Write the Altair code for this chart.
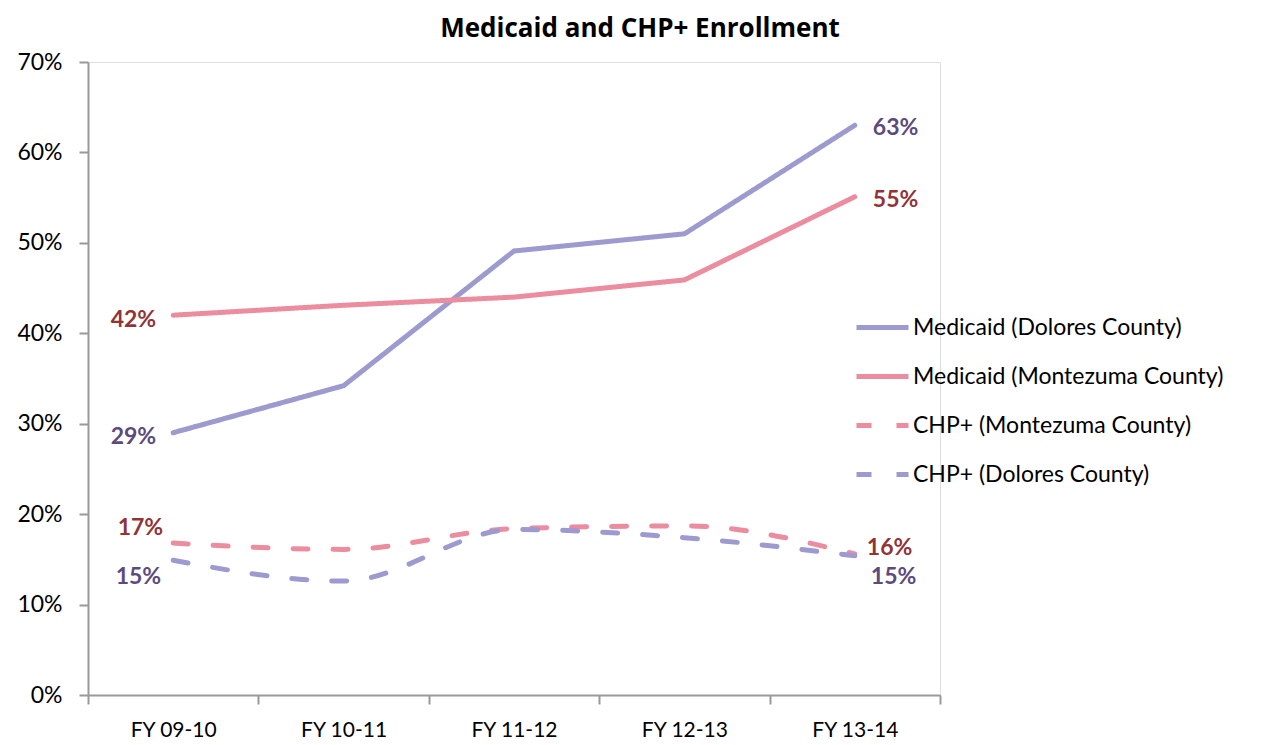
import altair as alt
import pandas as pd

categories = ["FY 09-10", "FY 10-11", "FY 11-12", "FY 12-13", "FY 13-14"]
series_names = ["Medicaid (Dolores County)", "Medicaid (Montezuma County)",
                "CHP+ (Montezuma County)", "CHP+ (Dolores County)"]
medicaid_dolores = [0.29, 0.342, 0.491, 0.51, 0.63]
medicaid_montezuma = [0.42, 0.431, 0.44, 0.459, 0.551]
chp_montezuma = [0.168, 0.161, 0.184, 0.187, 0.156]
chp_dolores = [0.149, 0.126, 0.183, 0.174, 0.154]

values = [medicaid_dolores, medicaid_montezuma, chp_montezuma, chp_dolores]
colors = ["#9d9ad0", "#ec8c9f", "#ec8c9f", "#9d9ad0"]
label_colors = {"Medicaid (Dolores County)": "#5c4a7d", "Medicaid (Montezuma County)": "#913337",
                "CHP+ (Montezuma County)": "#913337", "CHP+ (Dolores County)": "#5c4a7d"}
dashes = [[1, 0], [1, 0], [15, 25], [15, 25]]

rows = []
for s, vals in zip(series_names, values):
    for c, v in zip(categories, vals):
        rows.append({"series": s, "cat": c, "value": v, "kind": "CHP" if s.startswith("CHP") else "Med"})
df = pd.DataFrame(rows)

FONT = "Lato"

x = alt.X("cat:N", sort=categories, title=None,
          scale=alt.Scale(paddingInner=0, paddingOuter=0),
          axis=alt.Axis(labelAngle=0, tickBand="extent", labelFont=FONT, labelFontSize=21,
                        labelColor="#000", domainColor="#999", domainWidth=2, tickColor="#999",
                        tickWidth=2, tickSize=9, labelPadding=15, grid=False))
y = alt.Y("value:Q", title=None,
          scale=alt.Scale(domain=[0, 0.7], nice=False),
          axis=alt.Axis(format=".0%", values=[0, 0.1, 0.2, 0.3, 0.4, 0.5, 0.6, 0.7],
                        labelFont=FONT, labelFontSize=23, labelColor="#000",
                        domainColor="#999", domainWidth=2, tickColor="#999", tickWidth=2,
                        tickSize=9, labelPadding=17, grid=False))
color = alt.Color("series:N", scale=alt.Scale(domain=series_names, range=colors),
                  legend=alt.Legend(title=None, orient="none", legendX=766, legendY=237,
                                    symbolType="stroke", symbolSize=2704, symbolStrokeWidth=5,
                                    labelFont=FONT, labelFontSize=23, labelColor="#000",
                                    labelLimit=0, rowPadding=8, labelOffset=2, symbolOffset=0))
dash = alt.StrokeDash("series:N", scale=alt.Scale(domain=series_names, range=dashes), legend=None)

base = alt.Chart(df)
med = base.transform_filter(alt.datum.kind == "Med").mark_line(strokeWidth=5, strokeCap="round").encode(
    x=x, y=y, color=color, strokeDash=dash)
chp = base.transform_filter(alt.datum.kind == "CHP").mark_line(
    strokeWidth=5, strokeCap="round", interpolate="monotone").encode(
    x=x, y=y, color=color, strokeDash=dash)

# label placement: (series, category index, align, dx, dy)
label_specs = [
    ("Medicaid (Montezuma County)", 0, "right", -17, 5),
    ("Medicaid (Dolores County)", 0, "right", -17, 4),
    ("CHP+ (Montezuma County)", 0, "right", -10, -15),
    ("CHP+ (Dolores County)", 0, "right", -12, 17),
    ("Medicaid (Dolores County)", 4, "left", 18, 3),
    ("Medicaid (Montezuma County)", 4, "left", 18, 3),
    ("CHP+ (Montezuma County)", 4, "left", 12, -6),
    ("CHP+ (Dolores County)", 4, "left", 16, 21),
]
layers = [med, chp]
for s, i, al, dx, dy in label_specs:
    v = values[series_names.index(s)][i]
    ldf = pd.DataFrame([{"cat": categories[i], "value": v, "label": f"{round(v * 100):.0f}%"}])
    layers.append(alt.Chart(ldf).mark_text(
        font=FONT, fontSize=23, fontWeight="bold", color=label_colors[s],
        dx=dx, dy=dy, align=al, baseline="middle").encode(
        x=alt.X("cat:N", sort=categories), y="value:Q", text="label:N"))

chart = alt.layer(*layers).properties(
    width=852, height=633,
    title=alt.Title("Medicaid and CHP+ Enrollment", font="Open Sans", fontSize=26, fontWeight="bold",
                    color="#000", offset=9, anchor="middle", dx=126),
    autosize=alt.AutoSizeParams(type="none"),
    padding={"left": 80, "top": 54, "right": 310, "bottom": 50},
).configure_view(stroke=None).configure(background="white")

chart.save("out.html", embed_options={"renderer": "svg", "actions": False})
